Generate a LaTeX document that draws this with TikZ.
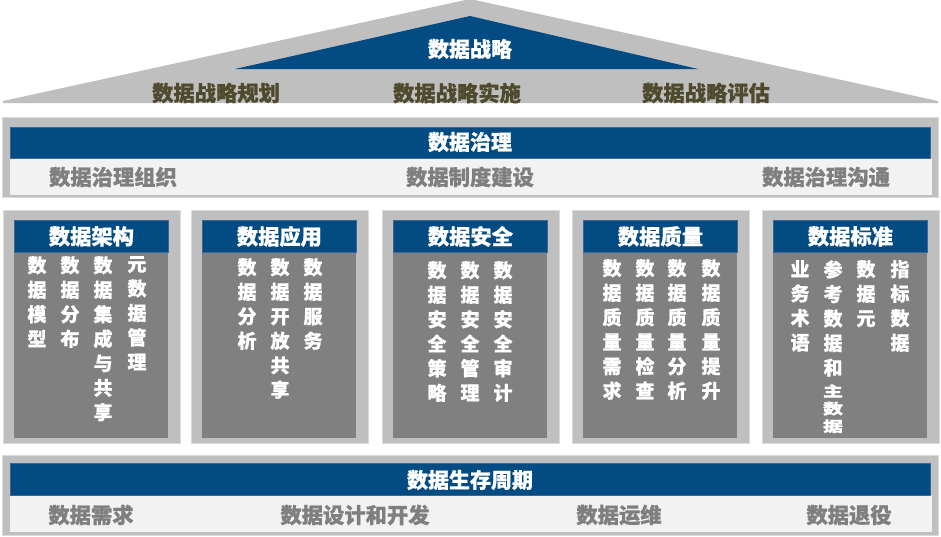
\documentclass[tikz,border=0pt]{standalone}
\usepackage{fontspec}
\setmainfont{Noto Sans CJK SC}[BoldFeatures={FakeBold=0.7}]
\usepackage{graphicx}
\definecolor{cblue}{HTML}{034B83}
\definecolor{cblueedge}{HTML}{3D6796}
\definecolor{cgray}{HTML}{BFBFBF}
\definecolor{cframeedge}{HTML}{DADADA}
\definecolor{cdark}{HTML}{808080}
\definecolor{cpale}{HTML}{F2F2F2}
\definecolor{ctext}{HTML}{7F7F7F}
\definecolor{colive}{HTML}{4E4A2D}
\newcommand\sqz[1]{\scalebox{1.05}[0.76]{#1}}
\begin{document}
\begin{tikzpicture}[x=1pt,y=-1pt,
  frame/.style={fill=cgray,draw=cframeedge,line width=1pt},
  bluebar/.style={fill=cblue,draw=cblueedge,line width=0.8pt},
  palebar/.style={fill=cpale},
  bodybox/.style={fill=cdark},
  ttl/.style={text=white,font=\fontsize{21}{24}\selectfont\bfseries,inner sep=0pt},
  subt/.style={text=ctext,font=\fontsize{21.3}{24}\selectfont\bfseries,inner sep=0pt},
  roofl/.style={text=colive,font=\fontsize{21.3}{24}\selectfont\bfseries,inner sep=0pt},
  hdr/.style={bluebar,text=white,font=\fontsize{21.3}{24}\selectfont\bfseries,
    minimum width=154pt,minimum height=32pt,inner sep=0pt,anchor=north west},
  colt/.style={text=white,font=\fontsize{19}{24.5}\selectfont\bfseries,
    align=center,anchor=north,inner sep=0pt},
  colsq/.style={text=white,font=\fontsize{19}{17.5}\selectfont\bfseries,
    align=center,anchor=north,inner sep=0pt}]
\useasboundingbox (0,0) rectangle (941,536);

% ---------- roof ----------
\path[fill=cgray] (3,103) -- (3,101) -- (470,-1) -- (938,101) -- (938,103) -- cycle;
\path[fill=cblue] (235,69) -- (470,16) -- (698,69) -- cycle;
\node[ttl]   (strat)  at (470,49) {数据战略};
\node[roofl] (strat1) at (216,93) {数据战略规划};
\node[roofl] (strat2) at (457,93) {数据战略实施};
\node[roofl] (strat3) at (706,93) {数据战略评估};

% ---------- governance band ----------
\path[frame] (2,117) rectangle (938,197);
\path[palebar] (10,158) rectangle (932,195);
\path[bluebar] (10,127) rectangle (930,158);
\node[ttl]  (gov)  at (470,142) {数据治理};
\node[subt] (gov1) at (113,177) {数据治理组织};
\node[subt] (gov2) at (470,177) {数据制度建设};
\node[subt] (gov3) at (826,177) {数据治理沟通};

% ---------- pillars ----------
\newcommand\mypillar[3]{%
  \path[frame] (#1,210) rectangle ++(177,233);
  \path[bodybox] (#1+11,251) rectangle ++(154,187);
  \node[hdr] (#2) at (#1+11,220) {#3};
}
\mypillar{3}{arch}{数据架构}
\mypillar{191}{app}{数据应用}
\mypillar{382}{sec}{数据安全}
\mypillar{572}{qual}{数据质量}
\mypillar{762}{std}{数据标准}

% pillar 1
\node[colt] (arch1) at (37,256)  {数\\据\\模\\型};
\node[colt] (arch2) at (70,256)  {数\\据\\分\\布};
\node[colt] (arch3) at (103,256) {数\\据\\集\\成\\与\\共\\享};
\node[colt] (arch4) at (137,256) {元\\数\\据\\管\\理};
% pillar 2
\node[colt] (app1) at (247,258) {数\\据\\分\\析};
\node[colt] (app2) at (280,258) {数\\据\\开\\放\\共\\享};
\node[colt] (app3) at (313,258) {数\\据\\服\\务};
% pillar 3
\node[colt] (sec1) at (437,261) {数\\据\\安\\全\\策\\略};
\node[colt] (sec2) at (470,261) {数\\据\\安\\全\\管\\理};
\node[colt] (sec3) at (503,261) {数\\据\\安\\全\\审\\计};
% pillar 4
\node[colt] (qual1) at (612,259) {数\\据\\质\\量\\需\\求};
\node[colt] (qual2) at (645,259) {数\\据\\质\\量\\检\\查};
\node[colt] (qual3) at (677,259) {数\\据\\质\\量\\分\\析};
\node[colt] (qual4) at (711,259) {数\\据\\质\\量\\提\\升};
% pillar 5
\node[colt]  (std1)  at (800,260) {业\\务\\术\\语};
\node[colt]  (std2)  at (833,260) {参\\考\\数\\据\\和};
\node[colsq] (std2b) at (833,384) {\sqz{主}\\\sqz{数}\\\sqz{据}};
\node[colt]  (std3)  at (866,260) {数\\据\\元};
\node[colt]  (std4)  at (900,260) {指\\标\\数\\据};

% ---------- lifecycle band ----------
\path[frame] (2,455) rectangle (938,535);
\path[palebar] (10,495) rectangle (932,532);
\path[bluebar] (10,463) rectangle (930,495);
\node[ttl]  (life)  at (470,480) {数据生存周期};
\node[subt] (life1) at (91,515)  {数据需求};
\node[subt] (life2) at (355,515) {数据设计和开发};
\node[subt] (life3) at (619,515) {数据运维};
\node[subt] (life4) at (849,515) {数据退役};
\end{tikzpicture}
\end{document}
